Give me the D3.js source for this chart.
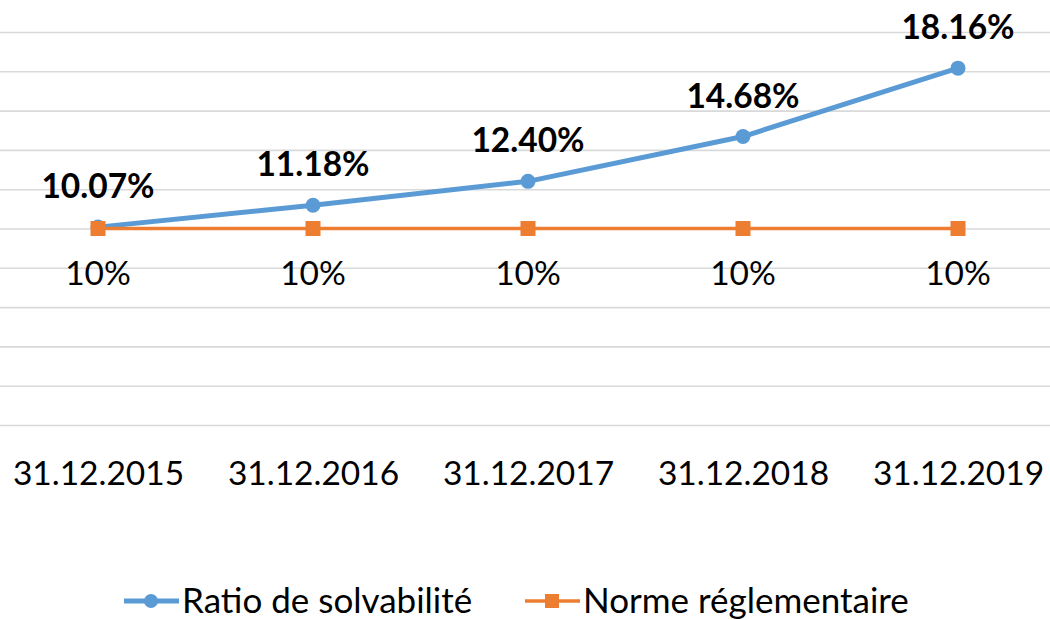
<!DOCTYPE html>
<html>
<head>
<meta charset="utf-8">
<script src="https://cdn.jsdelivr.net/npm/d3@7"></script>
<style>
  body { margin: 0; background: #fff; }
  text { font-family: Lato, "Open Sans", sans-serif; fill: #000; }
</style>
</head>
<body>
<div id="canvas"></div>
<script>
// data
var dates = ['31.12.2015', '31.12.2016', '31.12.2017', '31.12.2018', '31.12.2019'];
var ratio = [10.07, 11.18, 12.40, 14.68, 18.16];
var norme = [10, 10, 10, 10, 10];
var ratioLabels = ['10.07%', '11.18%', '12.40%', '14.68%', '18.16%'];
var normeLabels = ['10%', '10%', '10%', '10%', '10%'];
var gridTicks = [0, 2, 4, 6, 8, 10, 12, 14, 16, 18, 20];

var W = 1050, H = 620;
var blue = '#5b9bd5', orange = '#ed7d31';

var svg = d3.select('#canvas')
    .append('svg')
    .attr('width', W)
    .attr('height', H);

// scales
var scaleX = d3.scalePoint()
    .domain(dates)
    .range([98, 958]);
var scaleY = d3.scaleLinear()
    .domain([0, 20])
    .range([425, 32]);

// gridlines
var axisY = d3.axisLeft()
    .scale(scaleY)
    .tickValues(gridTicks)
    .tickSize(-W)
    .tickFormat('');
svg.append('g')
    .attr('class', 'grid')
    .call(axisY)
    .call(function(g){
      g.select('.domain').remove();
      g.selectAll('line').attr('stroke', '#d9d9d9').attr('stroke-width', 1.6);
    });

// x axis labels
var axisX = d3.axisBottom()
    .scale(scaleX)
    .tickSize(0)
    .tickPadding(0);
svg.append('g')
    .attr('transform', 'translate(0,' + scaleY(0) + ')')
    .call(axisX)
    .call(function(g){
      g.select('.domain').remove();
      g.selectAll('text')
        .attr('dy', null)
        .attr('y', 60)
        .style('font-family', 'Lato, "Open Sans", sans-serif')
        .style('font-size', '33.5px')
        .attr('fill', '#000');
    });

var line = d3.line()
    .x(function(d, i){ return scaleX(dates[i]); })
    .y(function(d){ return scaleY(d); });

// ratio series
svg.append('path')
    .datum(ratio)
    .attr('d', line)
    .attr('fill', 'none')
    .attr('stroke', blue)
    .attr('stroke-width', 5)
    .attr('stroke-linejoin', 'round');
svg.selectAll('.dot')
    .data(ratio)
    .enter()
    .append('circle')
    .attr('class', 'dot')
    .attr('cx', function(d, i){ return scaleX(dates[i]); })
    .attr('cy', function(d){ return scaleY(d); })
    .attr('r', 7.5)
    .attr('fill', blue);

// norme series
svg.append('path')
    .datum(norme)
    .attr('d', line)
    .attr('fill', 'none')
    .attr('stroke', orange)
    .attr('stroke-width', 3.5);
svg.selectAll('.sq')
    .data(norme)
    .enter()
    .append('rect')
    .attr('class', 'sq')
    .attr('x', function(d, i){ return scaleX(dates[i]) - 7.5; })
    .attr('y', function(d){ return scaleY(d) - 7.5; })
    .attr('width', 15)
    .attr('height', 15)
    .attr('fill', orange);

// data labels
svg.selectAll('.lblR')
    .data(ratio)
    .enter()
    .append('text')
    .attr('class', 'lblR')
    .attr('x', function(d, i){ return scaleX(dates[i]); })
    .attr('y', function(d){ return scaleY(d) - 29; })
    .attr('text-anchor', 'middle')
    .style('font-size', '33.5px')
    .style('font-weight', 'bold')
    .text(function(d, i){ return ratioLabels[i]; });

svg.selectAll('.lblN')
    .data(norme)
    .enter()
    .append('text')
    .attr('class', 'lblN')
    .attr('x', function(d, i){ return scaleX(dates[i]); })
    .attr('y', function(d){ return scaleY(d) + 56; })
    .attr('text-anchor', 'middle')
    .style('font-size', '33.5px')
    .text(function(d, i){ return normeLabels[i]; });

// legend
var legend = [
  {name: 'Ratio de solvabilité', color: blue, x: 124, shape: 'circle', sw: 5},
  {name: 'Norme réglementaire', color: orange, x: 525, shape: 'rect', sw: 3.5}
];
var ly = 601;
var lg = svg.selectAll('.legend')
    .data(legend)
    .enter()
    .append('g')
    .attr('class', 'legend')
    .attr('transform', function(d){ return 'translate(' + d.x + ',' + ly + ')'; });
lg.append('line')
    .attr('x1', 0).attr('x2', 55)
    .attr('stroke', function(d){ return d.color; })
    .attr('stroke-width', function(d){ return d.sw; });
lg.filter(function(d){ return d.shape == 'circle'; })
    .append('circle')
    .attr('cx', 27).attr('r', 7)
    .attr('fill', function(d){ return d.color; });
lg.filter(function(d){ return d.shape == 'rect'; })
    .append('rect')
    .attr('x', 20).attr('y', -7).attr('width', 14).attr('height', 14)
    .attr('fill', function(d){ return d.color; });
lg.append('text')
    .attr('x', 58)
    .attr('y', 12)
    .style('font-size', '35px')
    .text(function(d){ return d.name; });
</script>
</body>
</html>
